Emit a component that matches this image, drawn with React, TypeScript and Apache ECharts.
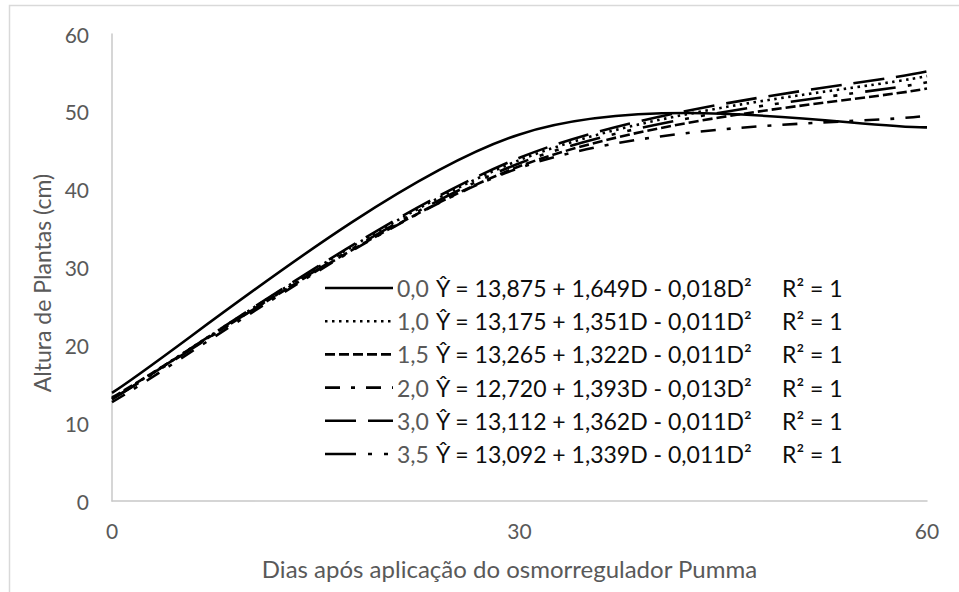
import { useEffect, useRef } from "react";
import * as echarts from "echarts";

// ---- data ----
const days = [0, 30, 60];
const doseNames = ["0,0", "1,0", "1,5", "2,0", "3,0", "3,5"];
const height00 = [13.9, 47.1, 48.0];
const height10 = [13.2, 43.8, 54.6];
const height15 = [13.3, 43.0, 53.0];
const height20 = [12.7, 42.8, 49.5];
const height30 = [13.1, 44.1, 55.2];
const height35 = [13.1, 43.4, 53.8];
const equations = [
  "Ŷ = 13,875 + 1,649D - 0,018D²",
  "Ŷ = 13,175 + 1,351D - 0,011D²",
  "Ŷ = 13,265 + 1,322D - 0,011D²",
  "Ŷ = 12,720 + 1,393D - 0,013D²",
  "Ŷ = 13,112 + 1,362D - 0,011D²",
  "Ŷ = 13,092 + 1,339D - 0,011D²",
];
const r2Labels = ["R² = 1", "R² = 1", "R² = 1", "R² = 1", "R² = 1", "R² = 1"];
const xTickInterval = 30;
const yTickInterval = 10;
const xTitle = "Dias após aplicação do osmorregulador Pumma";
const yTitle = "Altura de Plantas (cm)";

const allSeries = [height00, height10, height15, height20, height30, height35];
const dashes: (number[] | null)[] = [
  null,
  [2.5, 4.5],
  [10, 4],
  [15, 11, 4, 11],
  [31, 12],
  [31, 12, 4, 12, 4, 12],
];

const FONT = "Lato";
const GRAY = "#595959";

export default function App() {
  const ref = useRef<HTMLDivElement>(null);

  useEffect(() => {
    if (!ref.current) return;
    const chart = echarts.init(ref.current, null, { renderer: "svg" });

    const series = allSeries.map((vals, si) => ({
      type: "custom",
      name: doseNames[si],
      coordinateSystem: "cartesian2d",
      data: vals.map((v, k) => [days[k], v]),
      encode: { x: 0, y: 1 },
      silent: true,
      renderItem: (params: any, api: any) => {
        if (params.dataIndex !== 0) return null;
        const c = vals.map((v, k) => api.coord([days[k], v]));
        const n = c.length;
        let d = `M${c[0][0]},${c[0][1]}`;
        for (let i = 0; i < n - 1; i++) {
          const p0 = c[Math.max(i - 1, 0)];
          const p1 = c[i];
          const p2 = c[i + 1];
          const p3 = c[Math.min(i + 2, n - 1)];
          const cp1x = p1[0] + (p2[0] - p0[0]) / 6;
          const cp1y = p1[1] + (p2[1] - p0[1]) / 6;
          const cp2x = p2[0] - (p3[0] - p1[0]) / 6;
          const cp2y = p2[1] - (p3[1] - p1[1]) / 6;
          d += ` C${cp1x},${cp1y} ${cp2x},${cp2y} ${p2[0]},${p2[1]}`;
        }
        return {
          type: "path",
          shape: { pathData: d },
          style: {
            fill: "none",
            stroke: "#000",
            lineWidth: 2.6,
            lineDash: dashes[si] || undefined,
            lineCap: "butt",
          },
        };
      },
    }));

    // legend drawn as graphic rows
    const rowY0 = 288;
    const rowStep = 33.2;
    const legendEls: any[] = [];
    doseNames.forEach((name, k) => {
      const y = rowY0 + k * rowStep;
      legendEls.push({
        type: "line",
        shape: { x1: 325, y1: y, x2: 393, y2: y },
        style: {
          stroke: "#000",
          lineWidth: 2.6,
          lineDash: dashes[k] || undefined,
          lineCap: "butt",
        },
      });
      legendEls.push({
        type: "text",
        x: 397,
        y,
        style: {
          text: name,
          fill: GRAY,
          font: `23px ${FONT}`,
          verticalAlign: "middle",
          align: "left",
        },
      });
      legendEls.push({
        type: "text",
        x: 436,
        y,
        style: {
          text: equations[k],
          fill: "#0d0d0d",
          font: `23px ${FONT}`,
          verticalAlign: "middle",
          align: "left",
        },
      });
      legendEls.push({
        type: "text",
        x: 782,
        y,
        style: {
          text: r2Labels[k],
          fill: "#0d0d0d",
          font: `23px ${FONT}`,
          verticalAlign: "middle",
          align: "left",
        },
      });
    });

    chart.setOption({
      animation: false,
      backgroundColor: "#fff",
      grid: { left: 112, right: 32, top: 34, bottom: 91, containLabel: false },
      xAxis: {
        type: "value",
        min: 0,
        max: 60,
        interval: xTickInterval,
        axisLine: { show: true, onZero: false, lineStyle: { color: "#c8c8c8", width: 1.5 } },
        axisTick: { show: false },
        splitLine: { show: false },
        axisLabel: { color: GRAY, fontSize: 21, fontFamily: FONT, margin: 19 },
        name: xTitle,
        nameLocation: "middle",
        nameGap: 55,
        nameTextStyle: { color: GRAY, fontSize: 24, fontFamily: FONT, padding: [0, 20, 0, 0] },
      },
      yAxis: {
        type: "value",
        min: 0,
        max: 60,
        interval: yTickInterval,
        axisLine: { show: true, lineStyle: { color: "#c8c8c8", width: 1.5 } },
        axisTick: { show: false },
        splitLine: { show: false },
        axisLabel: { color: GRAY, fontSize: 21, fontFamily: FONT, margin: 23 },
      },
      graphic: [
        {
          type: "rect",
          shape: { x: 9.5, y: 5.5, width: 1000, height: 1000 },
          style: { fill: "none", stroke: "#d9d9d9", lineWidth: 1.5 },
          silent: true,
          z: -1,
        },
        {
          type: "text",
          x: 42,
          y: 283,
          rotation: Math.PI / 2,
          style: {
            text: yTitle,
            fill: GRAY,
            font: `23px ${FONT}`,
            align: "center",
            verticalAlign: "middle",
          },
        },
        ...legendEls,
      ],
      series,
    });

    return () => chart.dispose();
  }, []);

  return (
    <div
      ref={ref}
      style={{ position: "fixed", left: 0, top: 0, width: 959, height: 592 }}
    />
  );
}
